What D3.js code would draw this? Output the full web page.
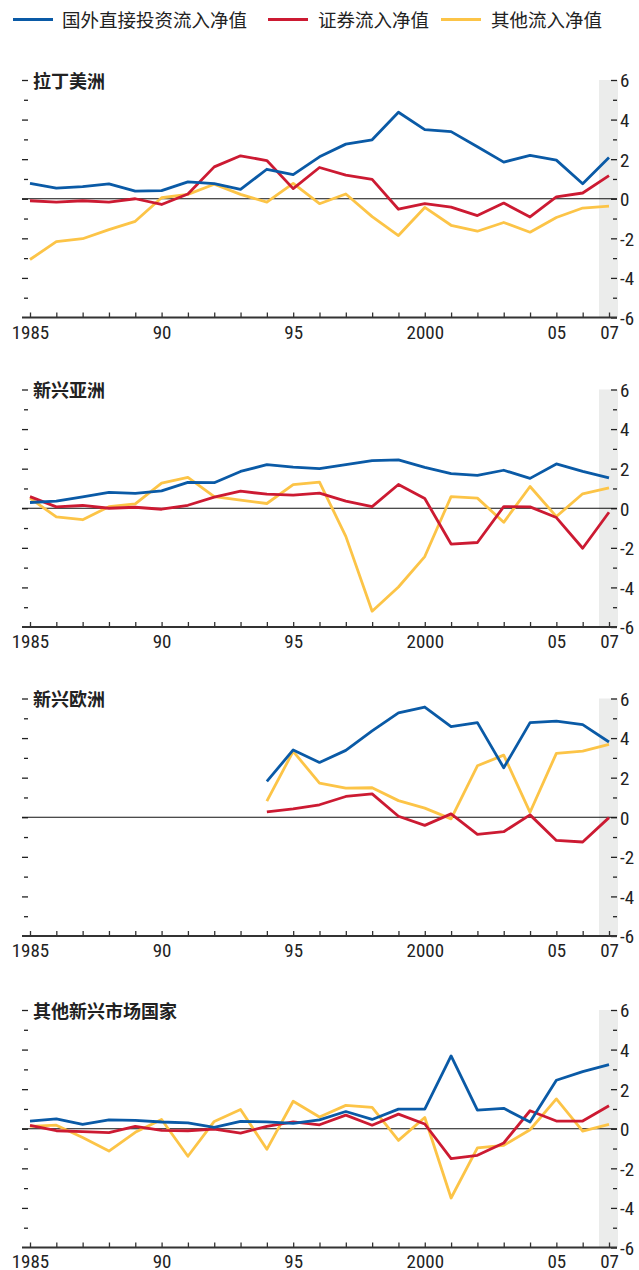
<!DOCTYPE html>
<html><head><meta charset="utf-8">
<script src="https://cdn.jsdelivr.net/npm/d3@7/dist/d3.min.js"></script>
<style>body{margin:0;background:#fff}svg{display:block}</style>
</head><body><svg id="c" width="639" height="1270"></svg>
<script>
// ---- data ----
const years = [1985,1986,1987,1988,1989,1990,1991,1992,1993,1994,1995,1996,1997,1998,1999,2000,2001,2002,2003,2004,2005,2006,2007];
const seriesNames = ["国外直接投资流入净值","证券流入净值","其他流入净值"];
const regionNames = ["拉丁美洲","新兴亚洲","新兴欧洲","其他新兴市场国家"];

const latamFDI       = [0.78,0.54,0.61,0.75,0.39,0.41,0.85,0.76,0.47,1.49,1.22,2.12,2.76,2.98,4.37,3.49,3.39,2.63,1.85,2.19,1.95,0.76,2.08];
const latamPortfolio = [-0.10,-0.17,-0.10,-0.17,0.00,-0.29,0.24,1.61,2.17,1.93,0.51,1.58,1.19,0.98,-0.53,-0.25,-0.42,-0.85,-0.22,-0.92,0.10,0.29,1.17];
const latamOther     = [-3.07,-2.17,-2.02,-1.56,-1.14,0.05,0.22,0.73,0.22,-0.17,0.78,-0.25,0.24,-0.90,-1.86,-0.44,-1.34,-1.64,-1.20,-1.69,-0.95,-0.47,-0.37];

const asiaFDI       = [0.29,0.36,0.58,0.80,0.75,0.88,1.31,1.29,1.86,2.20,2.08,2.00,2.20,2.41,2.44,2.07,1.75,1.66,1.92,1.51,2.24,1.86,1.53];
const asiaPortfolio = [0.59,0.07,0.14,0.00,0.05,-0.05,0.15,0.56,0.86,0.71,0.66,0.76,0.36,0.08,1.20,0.49,-1.81,-1.73,0.08,0.07,-0.47,-2.02,-0.20];
const asiaOther     = [0.51,-0.44,-0.58,0.08,0.22,1.27,1.56,0.59,0.41,0.24,1.19,1.32,-1.42,-5.20,-3.98,-2.44,0.59,0.51,-0.71,1.10,-0.42,0.73,1.03];

const europeFDI       = [null,null,null,null,null,null,null,null,null,1.81,3.40,2.77,3.38,4.36,5.27,5.57,4.58,4.78,2.50,4.78,4.86,4.68,3.80];
const europePortfolio = [null,null,null,null,null,null,null,null,null,0.27,0.42,0.63,1.05,1.18,0.05,-0.41,0.17,-0.86,-0.73,0.12,-1.17,-1.25,-0.02];
const europeOther     = [null,null,null,null,null,null,null,null,null,0.81,3.33,1.72,1.47,1.49,0.84,0.46,-0.08,2.60,3.14,0.25,3.23,3.34,3.68];

const otherFDI       = [0.39,0.50,0.22,0.45,0.42,0.34,0.30,0.07,0.37,0.35,0.27,0.45,0.87,0.47,0.99,0.99,3.68,0.94,1.03,0.34,2.45,2.89,3.24];
const otherPortfolio = [0.17,-0.10,-0.15,-0.20,0.12,-0.08,-0.10,-0.02,-0.22,0.12,0.35,0.20,0.69,0.18,0.74,0.24,-1.51,-1.34,-0.72,0.91,0.39,0.39,1.16];
const otherOther     = [0.12,0.18,-0.44,-1.13,-0.18,0.47,-1.39,0.37,0.97,-1.04,1.39,0.59,1.18,1.08,-0.59,0.57,-3.50,-0.97,-0.84,-0.05,1.51,-0.12,0.22];

const xTickLabels = {1985:"1985",1990:"90",1995:"95",2000:"2000",2005:"05",2007:"07"};
const yTicks = [-6,-5,-4,-3,-2,-1,0,1,2,3,4,5,6];
const yLabelTicks = [-6,-4,-2,0,2,4,6];

// ---- build ----
const panels = [
  {name: regionNames[0], data: [latamFDI, latamPortfolio, latamOther]},
  {name: regionNames[1], data: [asiaFDI, asiaPortfolio, asiaOther]},
  {name: regionNames[2], data: [europeFDI, europePortfolio, europeOther]},
  {name: regionNames[3], data: [otherFDI, otherPortfolio, otherOther]}
];
const colors = ["#0a5aa6","#cc1a32","#fcc447"];
const numFont = "'Liberation Sans Narrow','Arial Narrow','Roboto Condensed',sans-serif";
const cjkFont = "'Noto Sans CJK SC','Noto Sans',sans-serif";

const svg = d3.select("#c");
const x = d3.scaleLinear().domain([1985, 2007]).range([30, 609]);
const panelTops = [80, 389.5, 698.5, 1010];
const PH = 237.5;
const axL = 22, axR = 617;

// legend
const legendItems = [{x0:13, tx:62},{x0:268, tx:318},{x0:441, tx:491}];
legendItems.forEach((li,i)=>{
  svg.append("line").attr("x1",li.x0).attr("x2",li.x0+40).attr("y1",19.5).attr("y2",19.5)
    .attr("stroke",colors[i]).attr("stroke-width",3.2);
  svg.append("text").attr("x",li.tx).attr("y",26.5).text(seriesNames[i])
    .attr("font-family",cjkFont).attr("font-size",18.5).attr("fill","#222");
});

panels.forEach((p, pi) => {
  const top = panelTops[pi], bot = top + PH;
  const y = d3.scaleLinear().domain([-6, 6]).range([bot, top]);
  const g = svg.append("g");

  // shaded band for 2007
  g.append("rect").attr("x", 599).attr("y", top).attr("width", 19).attr("height", bot - top)
    .attr("fill", "#ebeceb");

  // left minor ticks
  const la = d3.axisLeft(y).tickValues(yTicks.filter(v=>v>-6)).tickSize(6).tickFormat("");
  const lg = g.append("g").attr("transform", `translate(28,0)`).call(la);
  lg.select(".domain").remove();
  lg.selectAll(".tick line").attr("stroke","#222").attr("stroke-width",1.3)
    .attr("x2", d => (d % 2 === 0 ? -6 : -4));

  // right axis
  const ra = d3.axisRight(y).tickValues(yTicks).tickSize(6).tickPadding(3)
    .tickFormat(d => yLabelTicks.includes(d) ? String(d) : "");
  const rg = g.append("g").attr("transform", `translate(611,0)`).call(ra);
  rg.select(".domain").remove();
  rg.selectAll(".tick line").attr("stroke","#222").attr("stroke-width",1.3)
    .attr("x1", d => (d % 2 === 0 ? 0 : 2));
  rg.selectAll(".tick text").attr("font-family", numFont).attr("font-size", 19)
    .attr("fill","#222").attr("dy","0.36em");

  // zero line
  g.append("line").attr("x1", axL).attr("x2", axR).attr("y1", y(0)).attr("y2", y(0))
    .attr("stroke", "#111").attr("stroke-width", 1);

  // bottom axis
  const ba = d3.axisBottom(x).tickValues(years).tickSizeInner(-5).tickSizeOuter(0).tickPadding(pi === 3 ? 7 : 8)
    .tickFormat(d => xTickLabels[d] || "");
  const bg = g.append("g").attr("transform", `translate(0,${bot})`).call(ba);
  bg.select(".domain").remove();
  bg.selectAll(".tick line").attr("stroke","#333").attr("stroke-width",1.3);
  bg.selectAll(".tick text").attr("font-family", numFont).attr("font-size", 19).attr("fill","#222");
  g.append("line").attr("x1", axL).attr("x2", axR).attr("y1", bot).attr("y2", bot)
    .attr("stroke", "#333").attr("stroke-width", 2);

  // lines
  const line = d3.line().defined(d => d.v !== null).x(d => x(d.yr)).y(d => y(d.v));
  [2,1,0].forEach(si => {
    const arr = years.map((yr, k) => ({yr, v: p.data[si][k]}));
    g.append("path").attr("d", line(arr)).attr("fill","none")
      .attr("stroke", colors[si]).attr("stroke-width", 2.8).attr("stroke-linejoin","round");
  });

  // title
  const tb = g.append("rect").attr("x", 30).attr("y", top - 10).attr("height", 20).attr("fill", "#fff");
  const tt = g.append("text").attr("x", 33).attr("y", top + 7.5).text(p.name)
    .attr("font-family", cjkFont).attr("font-size", 18).attr("font-weight", 700).attr("fill", "#222");
  tb.attr("width", tt.node().getComputedTextLength() + 6);
});
</script></body></html>
